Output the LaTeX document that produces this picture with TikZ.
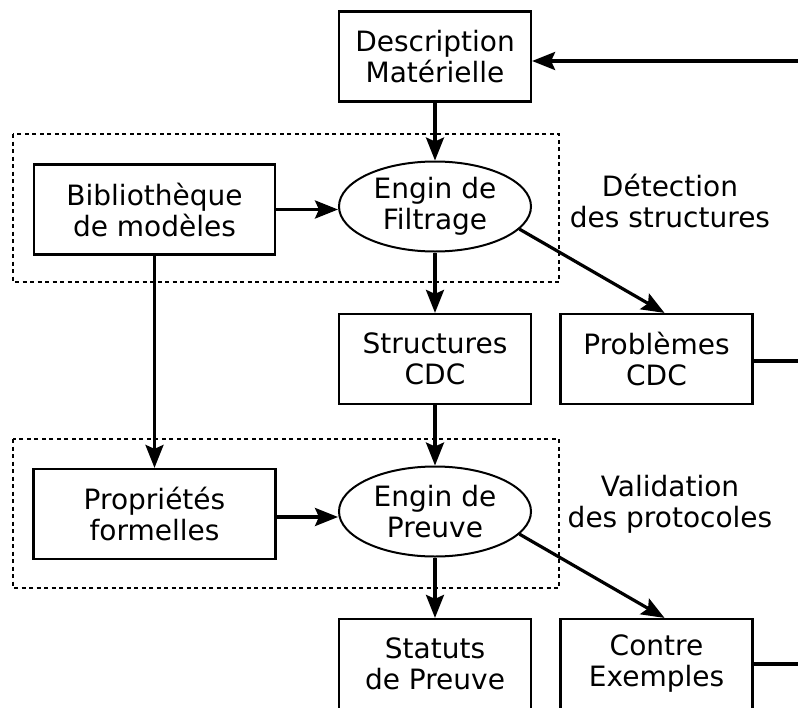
\documentclass[tikz,border=0pt]{standalone}
\usepackage{fontspec}
\setmainfont{DejaVu Sans}
\usetikzlibrary{arrows.meta,shapes.geometric}
\begin{document}
\begin{tikzpicture}[x=1pt,y=-1pt,
  every node/.style={font=\fontsize{28}{31}\selectfont, align=center, inner sep=0pt},
  box/.style={draw, line width=2.2pt, rectangle, minimum height=90pt},
  engine/.style={draw, line width=2pt, ellipse, minimum width=192pt, minimum height=90pt},
  flow/.style={line width=3.2pt, -{Stealth[length=23pt,width=18pt,inset=4pt]}},
  plain/.style={line width=3.2pt},
  group/.style={draw, line width=2pt, dash pattern=on 4pt off 3.5pt}
]
\useasboundingbox (0,0) rectangle (798,707);
\clip (0,0) rectangle (798,707);

% grouping frames
\draw[group] (13,134) rectangle (559,282);
\draw[group] (13,439) rectangle (559,588);

% blocks
\node[box, minimum width=192pt] (desc) at (435,56.5) {Description\\Matérielle};
\node[box, minimum width=241pt] (bib) at (154.5,209.5) {Bibliothèque\\de modèles};
\node[engine] (filt) at (435,206.5) {Engin de\\Filtrage};
\node[box, minimum width=192pt] (struct) at (435,359) {Structures\\CDC};
\node[box, minimum width=192pt] (prob) at (656.5,359) {Problèmes\\CDC};
\node[box, minimum width=242pt] (prop) at (154.5,514) {Propriétés\\formelles};
\node[engine] (prv) at (435,511.5) {Engin de\\Preuve};
\node[box, minimum width=192pt] (stat) at (435,664) {Statuts\\de Preuve};
\node[box, minimum width=192pt] (contre) at (656.5,664) {Contre\\Exemples};

% stage labels
\node (det) at (670,201) {Détection\\des structures};
\node (val) at (670,504) {Validation\\des protocoles};

% open ends at the right border
\coordinate (inDesc) at (798,61);
\coordinate (outProb) at (798,361);
\coordinate (outContre) at (798,664);

% connectors
\draw[flow] (inDesc) -- (inDesc -| desc.east);
\draw[flow] (desc.south) -- (filt.north);
\draw[flow] (bib.east) -- (bib.east -| filt.west);
\draw[flow] (filt.south) -- (struct.north);
\draw[flow] (filt.-15) -- ([xshift=8pt]prob.north);
\draw[plain] (prob.east |- outProb) -- (outProb);
\draw[flow] (bib.south) -- (prop.north);
\draw[flow] (struct.south) -- (prv.north);
\draw[flow] ([yshift=-3pt]prop.east) -- ([yshift=-3pt]prop.east -| prv.west);
\draw[flow] (prv.south) -- (stat.north);
\draw[flow] (prv.-15) -- ([xshift=8pt]contre.north);
\draw[plain] (contre.east) -- (outContre);
\end{tikzpicture}
\end{document}
